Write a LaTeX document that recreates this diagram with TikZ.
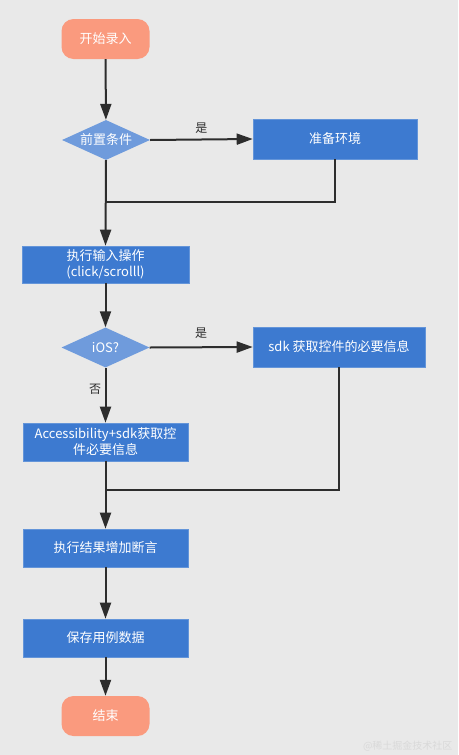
\documentclass[tikz,border=0pt]{standalone}
\usepackage{fontspec}
\setmainfont{Noto Sans CJK SC}
\usetikzlibrary{shapes.geometric,arrows.meta}
\definecolor{bg}{RGB}{233,233,233}
\definecolor{term}{RGB}{250,154,126}
\definecolor{boxblue}{RGB}{61,122,208}
\definecolor{diablue}{RGB}{111,155,220}
\definecolor{linec}{RGB}{45,45,45}
\begin{document}
\begin{tikzpicture}[x=1pt,y=-1pt,
  every node/.style={font=\fontsize{13}{16}\selectfont, text=white},
  termbox/.style={fill=term, rounded corners=12pt, minimum width=88pt, minimum height=40pt, inner sep=0pt},
  procbox/.style={fill=boxblue, draw=boxblue!80!white, line width=0.6pt, minimum height=38pt, inner sep=0pt, align=center},
  decbox/.style={diamond, fill=diablue, aspect=2.2, minimum width=88pt, minimum height=40pt, inner sep=0pt},
  conn/.style={draw=linec, line width=2pt},
  arr/.style={conn, -{Triangle[length=16pt,width=11pt]}},
  lab/.style={text=linec, font=\fontsize{12}{14}\selectfont}
]
\fill[bg] (0,0) rectangle (458,755);
\useasboundingbox (0,0) rectangle (458,755);

\node[termbox] (start) at (105.5,39) {开始录入};
\node[decbox] (cond) at (106,140) {前置条件};
\node[procbox, minimum width=164pt, minimum height=40pt] (env) at (335,139) {准备环境};
\coordinate (j1) at (106,202);
\node[procbox, minimum width=167pt, minimum height=37pt] (input) at (105.5,264.5) {执行输入操作\\(click/scrolll)};
\node[decbox] (ios) at (105.5,347.5) {iOS?};
\node[procbox, minimum width=172pt, minimum height=40pt] (sdk) at (339,347) {sdk 获取控件的必要信息};
\node[procbox, minimum width=165pt, minimum height=38pt] (acc) at (105.5,442) {Accessibility+sdk获取控\\件必要信息};
\coordinate (j2) at (105.5,490);
\node[procbox, minimum width=165pt, minimum height=38pt] (assert) at (105.5,548) {执行结果增加断言};
\node[procbox, minimum width=165pt, minimum height=38pt] (save) at (105.5,638) {保存用例数据};
\node[termbox] (end) at (105.5,716) {结束};

\draw[arr] (start) -- (cond);
\draw[arr] (cond.east) -- node[lab, above=2pt] {是} (env.west);
\draw[conn] (env.south) |- (j1);
\draw[arr] (cond.south) -- (input.north);
\draw[arr] (input) -- (ios);
\draw[arr] (ios.east) -- node[lab, above=4pt, pos=0.5] {是} (sdk.west);
\draw[arr] (ios.south) -- node[lab, left=0pt, pos=0.4] {否} (acc.north);
\draw[conn] (sdk.south) |- (j2);
\draw[arr] (acc) -- (assert);
\draw[arr] (assert) -- (save);
\draw[arr] (save) -- (end);

\node[text=white!70!gray, font=\fontsize{10}{12}\selectfont, anchor=east] (wm) at (456,746) {@稀土掘金技术社区};
\end{tikzpicture}
\end{document}
